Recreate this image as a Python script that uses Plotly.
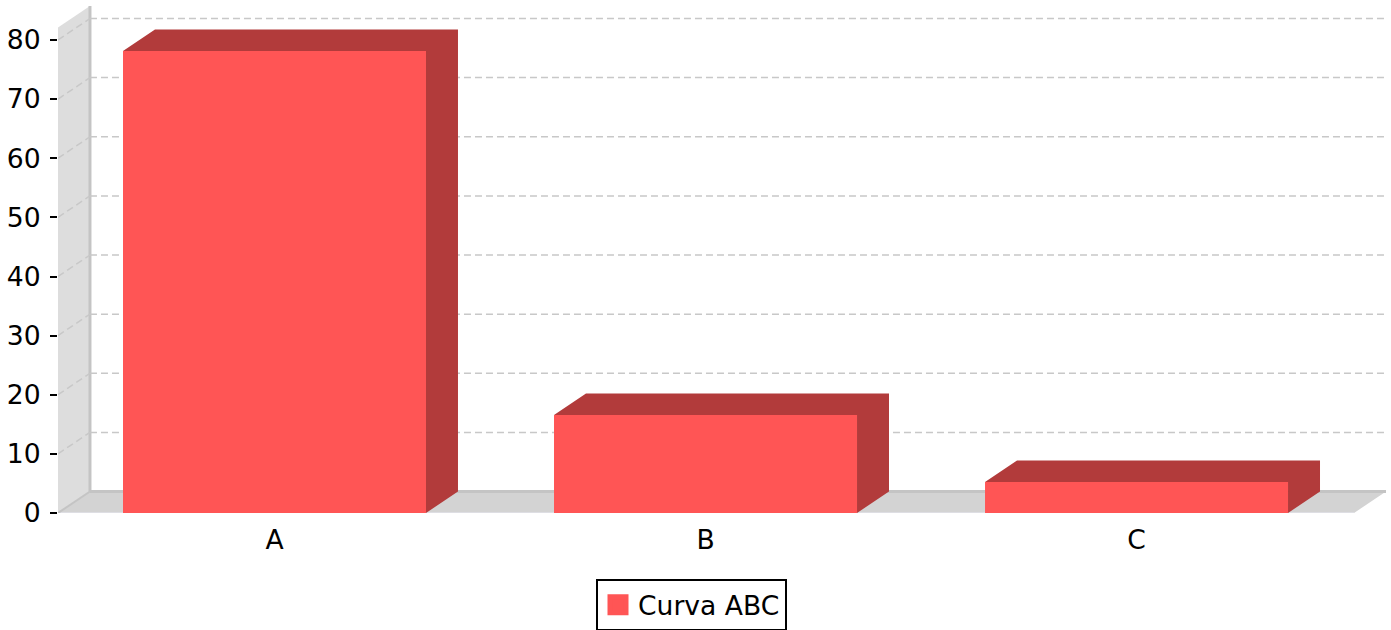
import plotly.graph_objects as go

categories = ["A", "B", "C"]
values = [78.14, 16.57, 5.24]
y_ticks = [0, 10, 20, 30, 40, 50, 60, 70, 80]
series_name = "Curva ABC"

BAR = "#ff5555"
SIDE = "#b23b3b"
WALL = "#dddddd"
FLOOR = "#d3d3d3"
EDGE = "#c4c4c4"
GRID = "#c8c8c8"
FONT = "DejaVu Sans"
FS = 26.6

# depth of the pseudo-3D projection, in axis units
DX = 0.0742
DY = 3.636
BW = 0.703
X0, X1 = -0.5023, 2.5046
YTOP = 85.75
xr = [X0, X1 + DX]
yr = [0, YTOP]

fig = go.Figure()
pos = list(range(len(categories)))

# front faces
fig.add_trace(go.Bar(x=pos, y=values, width=BW, marker=dict(color=BAR, line=dict(width=0)),
                     showlegend=False, hoverinfo="skip"))
# side and top faces, as a single outline
for p, v in zip(pos, values):
    l, r = p - BW / 2, p + BW / 2
    fig.add_trace(go.Scatter(x=[r, r + DX, r + DX, l + DX, l, r, r],
                             y=[0, DY, v + DY, v + DY, v, v, 0], mode="lines",
                             fill="toself", fillcolor=SIDE, line=dict(width=0),
                             showlegend=False, hoverinfo="skip"))
# legend entry
fig.add_trace(go.Scatter(x=[None], y=[None], mode="markers", name=series_name,
                         marker=dict(symbol="square", size=16, color=BAR, line=dict(color=BAR, width=5))))


def path(pts):
    return "M" + "L".join(f"{a},{b}" for a, b in pts) + "Z"


shapes = [
    dict(type="path", path=path([(X0, 0), (X0 + DX, DY), (X0 + DX, YTOP), (X0, YTOP - DY)]),
         fillcolor=WALL, line=dict(width=0), layer="below"),
    dict(type="path", path=path([(X0, 0), (X1, 0), (X1 + DX, DY), (X0 + DX, DY)]),
         fillcolor=FLOOR, line=dict(width=0), layer="below"),
    dict(type="line", x0=X0, x1=X1, y0=0, y1=0, line=dict(color="#e2e2e8", width=1.5), layer="below"),
    dict(type="line", x0=X0, x1=X0 + DX, y0=0, y1=DY, line=dict(color=EDGE, width=2), layer="below"),
    dict(type="line", x0=X0 + DX, x1=X1 + DX, y0=DY, y1=DY, line=dict(color=EDGE, width=3), layer="below"),
    dict(type="line", x0=X0 + DX, x1=X0 + DX, y0=DY, y1=YTOP, line=dict(color=EDGE, width=3), layer="below"),
]
for t in y_ticks[1:]:
    shapes.append(dict(type="line", x0=X0 + DX, x1=X1 + DX, y0=t + DY, y1=t + DY,
                       line=dict(color=GRID, width=1.5, dash="7px,4px"), layer="below"))
    shapes.append(dict(type="line", x0=X0, x1=X0 + DX, y0=t, y1=t + DY,
                       line=dict(color=GRID, width=1.5, dash="7px,4px"), layer="below"))

fig.update_layout(
    width=1391, height=630, autosize=False,
    margin=dict(l=58, r=5, t=6, b=117, pad=0),
    paper_bgcolor="white", plot_bgcolor="white",
    font=dict(family=FONT, size=FS, color="black"),
    barmode="overlay", shapes=shapes, hovermode=False,
    xaxis=dict(range=xr, tickmode="array", tickvals=pos, ticktext=categories, ticks="",
               showgrid=False, zeroline=False, showline=False, ticklabelstandoff=8,
               tickfont=dict(family=FONT, size=FS)),
    yaxis=dict(range=yr, tickmode="array", tickvals=y_ticks, ticks="outside", ticklen=7, tickwidth=2,
               tickcolor="black", showgrid=False, zeroline=False, showline=False, ticklabelstandoff=4,
               tickfont=dict(family=FONT, size=FS)),
    showlegend=True,
    legend=dict(x=(596 - 58) / 1328, y=1 - 579 / 630, xref="paper", yref="container",
                xanchor="left", yanchor="top", orientation="v",
                entrywidth=155, entrywidthmode="pixels",
                bgcolor="white", bordercolor="black", borderwidth=2, itemsizing="trace",
                font=dict(family=FONT, size=FS)),
)
fig.write_html("out.html", config=dict(displayModeBar=False),
               post_script="document.body.style.margin='0';")
